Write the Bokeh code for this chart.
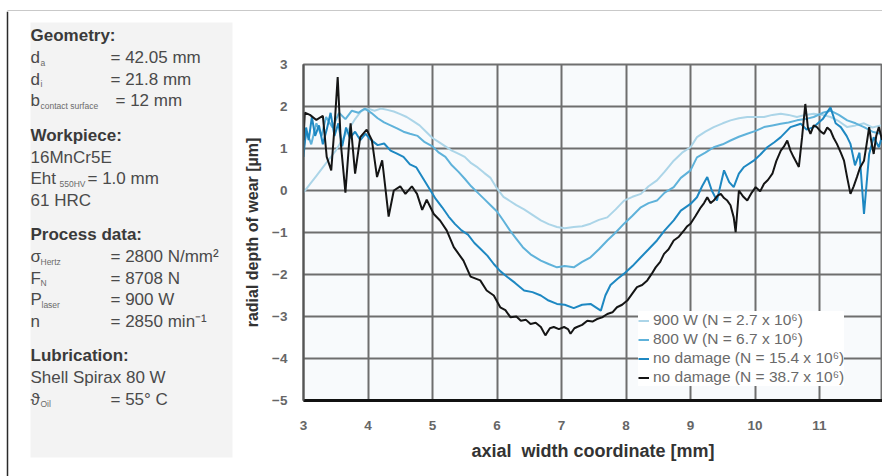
from bokeh.plotting import figure
from bokeh.layouts import row, column
from bokeh.models import Range1d, FixedTicker, Legend, LegendItem, Plot
from bokeh.core.properties import value
from bokeh.embed import file_html
from bokeh.resources import INLINE

# ---------------- data ----------------
x_900 = [3.00,3.10,3.20,3.30,3.40,3.50,3.60,3.70,3.80,3.90,4.00,4.10,4.20,4.30,4.40,4.50,4.60,4.70,4.80,4.90,
         5.00,5.10,5.20,5.30,5.40,5.50,5.60,5.70,5.80,5.90,6.00,6.10,6.20,6.30,6.42,6.55,6.68,6.80,6.93,7.05,
         7.19,7.32,7.45,7.58,7.71,7.84,7.97,8.10,8.23,8.35,8.48,8.60,8.74,8.87,9.00,9.10,9.23,9.36,9.50,9.62,
         9.75,9.88,10.01,10.14,10.27,10.40,10.52,10.65,10.78,10.91,11.05,11.17,11.30,11.43,11.56,11.69,11.82,11.95]
y_900 = [-0.05,0.15,0.35,0.55,0.75,0.95,1.20,1.45,1.70,1.90,1.95,1.90,1.95,1.92,1.88,1.82,1.75,1.65,1.55,1.40,
         1.25,1.15,1.05,0.95,0.88,0.80,0.65,0.55,0.42,0.30,0.05,-0.15,-0.25,-0.35,-0.45,-0.58,-0.71,-0.80,-0.87,-0.90,
         -0.87,-0.85,-0.79,-0.70,-0.64,-0.45,-0.24,-0.15,-0.08,0.10,0.24,0.45,0.71,0.90,1.03,1.27,1.40,1.51,1.60,1.67,
         1.72,1.75,1.75,1.75,1.80,1.83,1.80,1.75,1.80,1.83,1.80,1.75,1.65,1.51,1.55,1.60,1.50,1.55]

x_800 = [3.00,3.05,3.12,3.20,3.28,3.35,3.45,3.55,3.65,3.75,3.85,3.95,4.05,4.15,4.25,4.35,4.45,4.55,4.65,4.77,
         4.88,5.00,5.10,5.20,5.30,5.40,5.50,5.60,5.70,5.80,5.90,6.00,6.10,6.20,6.30,6.40,6.52,6.68,6.80,6.93,
         7.05,7.19,7.32,7.45,7.58,7.71,7.84,7.97,8.10,8.23,8.35,8.48,8.60,8.74,8.85,9.00,9.10,9.23,9.36,9.50,
         9.62,9.75,9.88,10.01,10.14,10.27,10.40,10.52,10.65,10.78,10.91,11.05,11.17,11.30,11.43,11.56,11.69,11.82,11.95]
y_800 = [1.00,1.40,1.10,1.60,1.30,1.75,1.50,1.85,1.70,1.90,1.85,1.95,1.85,1.72,1.62,1.55,1.48,1.40,1.35,1.30,
         1.15,1.05,0.90,0.80,0.60,0.45,0.28,0.10,-0.05,-0.20,-0.35,-0.50,-0.72,-0.95,-1.15,-1.35,-1.52,-1.67,-1.75,-1.83,
         -1.80,-1.83,-1.70,-1.59,-1.40,-1.19,-1.00,-0.79,-0.60,-0.40,-0.30,-0.24,-0.05,0.08,0.30,0.48,0.79,0.90,1.03,1.10,
         1.19,1.28,1.35,1.42,1.51,1.55,1.59,1.62,1.67,1.70,1.75,1.85,1.90,1.80,1.67,1.60,1.51,1.40,1.35]

x_154 = [3.00,3.04,3.08,3.13,3.18,3.24,3.30,3.36,3.42,3.48,3.54,3.60,3.66,3.72,3.80,3.88,3.96,4.05,4.15,4.25,
         4.35,4.45,4.55,4.65,4.75,4.85,4.95,5.05,5.15,5.25,5.35,5.45,5.55,5.65,5.75,5.85,5.95,6.05,6.16,6.28,
         6.42,6.55,6.68,6.80,6.93,7.05,7.19,7.32,7.45,7.55,7.61,7.68,7.76,7.87,7.97,8.10,8.23,8.35,8.48,8.60,
         8.74,8.85,9.00,9.10,9.18,9.26,9.33,9.41,9.52,9.60,9.67,9.75,9.83,9.98,10.08,10.19,10.30,10.40,10.55,10.71,
         10.80,10.91,11.05,11.17,11.25,11.33,11.42,11.48,11.55,11.62,11.69,11.77,11.84,11.92,11.97]
y_154 = [0.80,1.50,1.20,1.75,1.30,1.55,1.10,1.45,1.85,1.30,1.60,1.05,1.50,1.25,1.40,1.20,1.35,1.20,1.08,1.12,
         0.95,0.88,0.80,0.62,0.55,0.30,0.05,-0.20,-0.40,-0.62,-0.80,-0.95,-1.05,-1.25,-1.40,-1.55,-1.75,-1.92,-2.06,-2.20,
         -2.38,-2.42,-2.50,-2.62,-2.70,-2.72,-2.80,-2.72,-2.70,-2.80,-2.86,-2.50,-2.25,-2.10,-1.98,-1.80,-1.59,-1.40,-1.19,-0.95,
         -0.71,-0.48,-0.32,-0.16,0.10,0.32,0.00,-0.24,0.48,0.20,0.08,0.40,0.56,0.71,0.85,1.03,1.15,1.27,1.51,1.59,
         1.45,1.51,1.70,1.98,1.60,1.51,1.30,1.11,0.60,0.90,-0.56,0.87,1.27,1.03,1.30]

x_387 = [3.00,3.02,3.10,3.20,3.30,3.36,3.43,3.48,3.53,3.58,3.65,3.73,3.80,3.88,3.98,4.06,4.14,4.22,4.32,4.40,
         4.50,4.58,4.68,4.76,4.84,4.91,5.02,5.12,5.22,5.33,5.48,5.59,5.74,5.84,5.95,6.05,6.13,6.21,6.30,6.37,
         6.45,6.52,6.60,6.68,6.75,6.82,6.88,6.96,7.04,7.10,7.14,7.20,7.24,7.32,7.40,7.48,7.55,7.63,7.71,7.79,
         7.86,7.94,8.02,8.10,8.17,8.25,8.33,8.40,8.46,8.53,8.59,8.66,8.74,8.82,8.90,8.95,9.00,9.08,9.16,9.21,
         9.26,9.31,9.36,9.42,9.47,9.52,9.57,9.62,9.67,9.70,9.75,9.82,9.88,9.95,10.01,10.08,10.14,10.20,10.27,10.33,
         10.40,10.45,10.50,10.55,10.60,10.68,10.73,10.78,10.82,10.86,10.91,10.96,11.02,11.07,11.12,11.17,11.22,11.27,11.33,11.38,
         11.43,11.48,11.53,11.58,11.63,11.69,11.73,11.77,11.80,11.84,11.88,11.92,11.97]
y_387 = [1.20,1.85,1.80,1.68,1.78,0.80,0.48,1.50,2.70,1.10,-0.05,1.60,0.40,1.27,1.45,1.20,0.32,0.72,-0.62,0.00,
         0.10,-0.08,0.10,-0.08,-0.46,-0.22,-0.56,-0.72,-0.95,-1.35,-1.67,-2.05,-2.14,-2.38,-2.50,-2.78,-2.85,-3.02,-3.00,-3.10,
         -3.08,-3.18,-3.15,-3.25,-3.45,-3.28,-3.25,-3.30,-3.25,-3.30,-3.41,-3.28,-3.25,-3.20,-3.10,-3.12,-3.06,-3.02,-2.94,-2.90,
         -2.78,-2.72,-2.62,-2.45,-2.30,-2.25,-2.14,-1.98,-1.83,-1.70,-1.51,-1.40,-1.19,-1.10,-0.95,-0.85,-0.79,-0.60,-0.40,-0.30,
         -0.16,-0.30,-0.24,-0.12,-0.08,-0.18,-0.24,-0.35,-0.64,-0.99,0.00,-0.15,-0.24,-0.05,0.08,-0.02,0.16,0.25,0.40,0.70,
         0.95,1.05,1.19,0.95,0.79,0.56,1.27,2.06,1.50,1.35,1.55,1.51,1.40,1.35,1.50,1.43,1.25,1.11,0.90,0.71,
         0.30,-0.08,0.10,0.32,0.55,0.71,1.10,1.51,1.20,0.87,1.30,1.51,1.20]

series_labels = ["900 W (N = 2.7 x 10\u2076)", "800 W (N = 6.7 x 10\u2076)",
                 "no damage (N = 15.4 x 10\u2076)", "no damage (N = 38.7 x 10\u2076)"]
series_colors = ["#acd5e8", "#5fb2da", "#1e88c2", "#151515"]

x_ticks = [3, 4, 5, 6, 7, 8, 9, 10, 11, 12]
y_ticks = [3, 2, 1, 0, -1, -2, -3, -4, -5]
x_title = "axial\u00a0\u00a0width coordinate [mm]"
y_title = "radial depth of wear [\u00b5m]"

# left information panel: heading, then rows of (symbol, subscript, value)
panel_groups = [
    ("Geometry:", [("d", "a", "= 42.05 mm"), ("d", "i", "= 21.8 mm"), ("b", "contact surface", "= 12 mm")]),
    ("Workpiece:", [("16MnCr5E", "", ""), ("Eht", "550HV", "= 1.0 mm"), ("61 HRC", "", "")]),
    ("Process data:", [("\u03c3", "Hertz", "= 2800 N/mm\u00b2"), ("F", "N", "= 8708 N"),
                       ("P", "laser", "= 900 W"), ("n", "", "= 2850 min\u207b\u00b9")]),
    ("Lubrication:", [("Shell Spirax 80 W", "", ""), ("\u03d1", "Oil", "= 55\u00b0 C")]),
]

FONT = "Liberation Sans"
W, H = 882, 476
TOP = 11
LEFT_W = 235
AXIS_W = 68          # frame starts at LEFT_W + AXIS_W = 303 px
PX_PER_X = 64.5
HAS_FRAME_ALIGN = "frame_align" in Plot.properties()


def bare(fig):
    fig.axis.visible = False
    fig.grid.visible = False
    fig.outline_line_color = None
    if HAS_FRAME_ALIGN:
        fig.frame_align = False
    return fig


# ---------------- top strip (page border) ----------------
top = bare(figure(width=W, height=TOP, x_range=Range1d(0, W), y_range=Range1d(TOP, 0),
                  output_backend="svg", toolbar_location=None, min_border=0))
top.segment(x0=[7, 7], y0=[10, 10], x1=[W, 7], y1=[10, TOP], line_color="#2a2a2a", line_width=1.5)

# ---------------- left information panel ----------------
lp = bare(figure(width=LEFT_W, height=H - TOP, x_range=Range1d(0, LEFT_W), y_range=Range1d(H, TOP),
                 output_backend="svg", toolbar_location=None, min_border=0))
lp.quad(left=[30], right=[232], top=[22], bottom=[457], fill_color="#f3f3f3", line_color=None)
lp.segment(x0=[7], y0=[TOP], x1=[7], y1=[H], line_color="#2a2a2a", line_width=1.5)

sym_w = {"d": 10, "b": 10, "Eht": 29, "\u03c3": 10, "F": 10, "P": 11, "n": 10, "\u03d1": 10}
head_x, head_y, head_t = [], [], []
main_x, main_y, main_t = [], [], []
sub_x, sub_y, sub_t = [], [], []
val_x, val_y, val_t = [], [], []
yy = 35
for heading, rows_ in panel_groups:
    head_x.append(30); head_y.append(yy); head_t.append(heading)
    yy += 22
    for sym, sub, val in rows_:
        main_x.append(30); main_y.append(yy); main_t.append(sym)
        if sub:
            sub_x.append(30 + sym_w.get(sym, 10)); sub_y.append(yy + 5); sub_t.append(sub)
        if val:
            val_x.append(87 if sym == "Eht" else (115 if sym == "b" else 110)); val_y.append(yy); val_t.append(val)
        yy += 21.5
    yy += 13

BODY = "17px"
lp.text(x=head_x, y=head_y, text=head_t, text_font=value(FONT), text_font_size=BODY,
        text_font_style="bold", text_color="#3a3a3a", text_baseline="middle")
lp.text(x=main_x, y=main_y, text=main_t, text_font=value(FONT), text_font_size=BODY,
        text_color="#4a4a4a", text_baseline="middle")
lp.text(x=sub_x, y=sub_y, text=sub_t, text_font=value(FONT), text_font_size="8.5px",
        text_color="#6a6a6a", text_baseline="middle")
lp.text(x=val_x, y=val_y, text=val_t, text_font=value(FONT), text_font_size=BODY,
        text_color="#4a4a4a", text_baseline="middle")

# ---------------- chart ----------------
frame_w = W - LEFT_W - AXIS_W
p = figure(width=W - LEFT_W, height=H - TOP,
           x_range=Range1d(x_ticks[0], x_ticks[0] + frame_w / PX_PER_X),
           y_range=Range1d(y_ticks[-1], y_ticks[0]),
           output_backend="svg", toolbar_location=None,
           min_border_left=AXIS_W, min_border_right=0, min_border_top=53, min_border_bottom=76)
if HAS_FRAME_ALIGN:
    p.frame_align = False
p.background_fill_color = "#f8fafc"
p.border_fill_color = "white"
p.outline_line_color = "#6f6f6f"
p.outline_line_width = 2

p.xaxis.ticker = FixedTicker(ticks=x_ticks)
p.yaxis.ticker = FixedTicker(ticks=y_ticks)
for ax in (p.xaxis[0], p.yaxis[0]):
    ax.major_tick_line_color = None
    ax.minor_tick_line_color = None
    ax.major_label_text_font = FONT
    ax.major_label_text_font_size = "13.5px"
    ax.major_label_text_font_style = "bold"
    ax.major_label_text_color = "#666666"
    ax.axis_label_text_font = FONT
    ax.axis_label_text_font_style = "bold"
    ax.axis_label_text_color = "#333333"
p.xaxis.axis_label_text_font_size = "18px"
p.yaxis.axis_label_text_font_size = "16px"
p.xaxis.axis_label = x_title
p.yaxis.axis_label = y_title
p.xaxis.axis_line_color = "#111111"
p.xaxis.axis_line_width = 3
p.yaxis.axis_line_color = "#555555"
p.yaxis.axis_line_width = 2
p.xaxis.major_label_standoff = 14
p.yaxis.major_label_standoff = 10
p.xaxis.axis_label_standoff = 8
p.yaxis.axis_label_standoff = 8
p.xgrid.ticker = FixedTicker(ticks=x_ticks)
p.ygrid.ticker = FixedTicker(ticks=y_ticks)
p.grid.grid_line_color = "#6e6e6e"
p.grid.grid_line_width = 2

renderers = []
for xs, ys, c in zip([x_900, x_800, x_154, x_387], [y_900, y_800, y_154, y_387], series_colors):
    renderers.append(p.line(xs, ys, line_color=c, line_width=2))

legend = Legend(items=[LegendItem(label=lab, renderers=[r]) for lab, r in zip(series_labels, renderers)],
                location=(335, 14), background_fill_color="white", background_fill_alpha=1.0,
                border_line_color=None, label_text_font=FONT, label_text_font_size="15.5px",
                label_text_color="#6a6a6a", glyph_width=11, glyph_height=15, label_standoff=4,
                spacing=1, padding=4, margin=0, label_height=15)
p.add_layout(legend, "center")

layout = column(top, row(lp, p, spacing=0), spacing=0)
open("out.html", "w").write(file_html(layout, INLINE))
